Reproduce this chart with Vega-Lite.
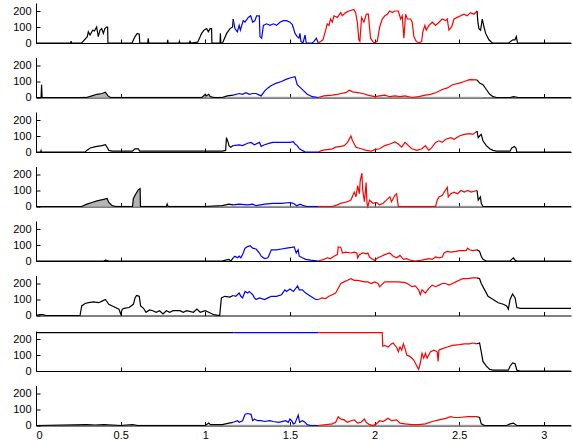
{
"$schema":"https://vega.github.io/schema/vega-lite/v6.json",
"padding":{"left":6,"top":3,"right":2,"bottom":0},
"spacing":9.5,
"config":{"view":{"stroke":null},"axis":{"grid":false,"domainColor":"#000","domainWidth":1,"tickColor":"#000","tickSize":-4,"tickWidth":1,"labelFont":"Liberation Sans","labelFontSize":11,"labelColor":"#000","title":null},"axisY":{"minExtent":30,"labelPadding":9},"axisX":{"labelPadding":8,"format":"~g"}},
"datasets":{
"g":[
{"p":2,"x":0.25,"y":0},{"p":2,"x":0.26,"y":5},{"p":2,"x":0.3,"y":6},{"p":2,"x":0.33,"y":10},{"p":2,"x":0.36,"y":18},{"p":2,"x":0.39,"y":22},{"p":2,"x":0.41,"y":30},{"p":2,"x":0.425,"y":8},{"p":2,"x":0.44,"y":5},{"p":2,"x":0.98,"y":5},{"p":2,"x":1.0,"y":15},{"p":2,"x":1.03,"y":5},{"p":2,"x":2.63,"y":5},{"p":2,"x":2.635,"y":0},
{"p":4,"x":0.25,"y":0},{"p":4,"x":0.27,"y":5},{"p":4,"x":0.3,"y":14},{"p":4,"x":0.33,"y":24},{"p":4,"x":0.36,"y":33},{"p":4,"x":0.38,"y":38},{"p":4,"x":0.4,"y":43},{"p":4,"x":0.42,"y":48},{"p":4,"x":0.43,"y":23},{"p":4,"x":0.45,"y":5},{"p":4,"x":0.57,"y":5},{"p":4,"x":0.575,"y":48},{"p":4,"x":0.59,"y":78},{"p":4,"x":0.605,"y":100},{"p":4,"x":0.615,"y":108},{"p":4,"x":0.617,"y":5},{"p":4,"x":2.63,"y":5},{"p":4,"x":2.635,"y":0},
{"p":8,"x":0.25,"y":0},{"p":8,"x":0.27,"y":5},{"p":8,"x":2.63,"y":5},{"p":8,"x":2.635,"y":0}
],
"d":[
{"p":1,"s":"k1","x":0,"y":0},{"p":1,"s":"k1","x":0.205,"y":0},{"p":1,"s":"k1","x":0.207,"y":12},{"p":1,"s":"k1","x":0.21,"y":0},{"p":1,"s":"k1","x":0.27,"y":0},{"p":1,"s":"k1","x":0.278,"y":10},{"p":1,"s":"k1","x":0.303,"y":40},{"p":1,"s":"k1","x":0.309,"y":70},{"p":1,"s":"k1","x":0.319,"y":50},{"p":1,"s":"k1","x":0.335,"y":80},{"p":1,"s":"k1","x":0.345,"y":75},{"p":1,"s":"k1","x":0.358,"y":100},{"p":1,"s":"k1","x":0.368,"y":40},{"p":1,"s":"k1","x":0.378,"y":80},{"p":1,"s":"k1","x":0.388,"y":90},{"p":1,"s":"k1","x":0.398,"y":60},{"p":1,"s":"k1","x":0.407,"y":90},{"p":1,"s":"k1","x":0.417,"y":100},{"p":1,"s":"k1","x":0.423,"y":100},{"p":1,"s":"k1","x":0.425,"y":0},{"p":1,"s":"k1","x":0.568,"y":0},{"p":1,"s":"k1","x":0.571,"y":10},{"p":1,"s":"k1","x":0.585,"y":40},{"p":1,"s":"k1","x":0.598,"y":60},{"p":1,"s":"k1","x":0.61,"y":55},{"p":1,"s":"k1","x":0.613,"y":0},{"p":1,"s":"k1","x":0.66,"y":0},{"p":1,"s":"k1","x":0.663,"y":30},{"p":1,"s":"k1","x":0.666,"y":0},{"p":1,"s":"k1","x":0.776,"y":0},{"p":1,"s":"k1","x":0.778,"y":20},{"p":1,"s":"k1","x":0.78,"y":0},{"p":1,"s":"k1","x":0.845,"y":0},{"p":1,"s":"k1","x":0.847,"y":10},{"p":1,"s":"k1","x":0.85,"y":0},{"p":1,"s":"k1","x":0.905,"y":0},{"p":1,"s":"k1","x":0.91,"y":10},{"p":1,"s":"k1","x":0.915,"y":0},{"p":1,"s":"k1","x":0.955,"y":5},{"p":1,"s":"k1","x":0.97,"y":40},{"p":1,"s":"k1","x":0.978,"y":60},{"p":1,"s":"k1","x":0.992,"y":80},{"p":1,"s":"k1","x":1.008,"y":90},{"p":1,"s":"k1","x":1.018,"y":70},{"p":1,"s":"k1","x":1.028,"y":90},{"p":1,"s":"k1","x":1.037,"y":90},{"p":1,"s":"k1","x":1.039,"y":0},{"p":1,"s":"k1","x":1.087,"y":0},{"p":1,"s":"k1","x":1.089,"y":60},{"p":1,"s":"k1","x":1.092,"y":0},{"p":1,"s":"k1","x":1.102,"y":0},{"p":1,"s":"k1","x":1.126,"y":60},{"p":1,"s":"k1","x":1.146,"y":90},{"p":1,"s":"k1","x":1.161,"y":100},{"p":1,"s":"k1","x":1.165,"y":150},
{"p":1,"s":"b","x":1.165,"y":150},{"p":1,"s":"b","x":1.175,"y":90},{"p":1,"s":"b","x":1.189,"y":70},{"p":1,"s":"b","x":1.2,"y":110},{"p":1,"s":"b","x":1.207,"y":80},{"p":1,"s":"b","x":1.224,"y":140},{"p":1,"s":"b","x":1.234,"y":130},{"p":1,"s":"b","x":1.254,"y":160},{"p":1,"s":"b","x":1.268,"y":170},{"p":1,"s":"b","x":1.28,"y":130},{"p":1,"s":"b","x":1.293,"y":140},{"p":1,"s":"b","x":1.303,"y":170},{"p":1,"s":"b","x":1.319,"y":170},{"p":1,"s":"b","x":1.323,"y":40},{"p":1,"s":"b","x":1.333,"y":30},{"p":1,"s":"b","x":1.343,"y":110},{"p":1,"s":"b","x":1.362,"y":120},{"p":1,"s":"b","x":1.382,"y":110},{"p":1,"s":"b","x":1.402,"y":120},{"p":1,"s":"b","x":1.421,"y":110},{"p":1,"s":"b","x":1.441,"y":130},{"p":1,"s":"b","x":1.461,"y":140},{"p":1,"s":"b","x":1.48,"y":140},{"p":1,"s":"b","x":1.5,"y":130},{"p":1,"s":"b","x":1.514,"y":115},{"p":1,"s":"b","x":1.53,"y":60},{"p":1,"s":"b","x":1.543,"y":40},{"p":1,"s":"b","x":1.553,"y":30},{"p":1,"s":"b","x":1.559,"y":60},{"p":1,"s":"b","x":1.565,"y":10},{"p":1,"s":"b","x":1.577,"y":0},{"p":1,"s":"b","x":1.589,"y":50},{"p":1,"s":"b","x":1.596,"y":0},{"p":1,"s":"b","x":1.632,"y":0},{"p":1,"s":"b","x":1.642,"y":10},{"p":1,"s":"b","x":1.656,"y":30},{"p":1,"s":"b","x":1.667,"y":0},
{"p":1,"s":"r","x":1.667,"y":0},{"p":1,"s":"r","x":1.681,"y":10},{"p":1,"s":"r","x":1.695,"y":20},{"p":1,"s":"r","x":1.711,"y":80},{"p":1,"s":"r","x":1.72,"y":120},{"p":1,"s":"r","x":1.73,"y":110},{"p":1,"s":"r","x":1.74,"y":150},{"p":1,"s":"r","x":1.75,"y":130},{"p":1,"s":"r","x":1.76,"y":170},{"p":1,"s":"r","x":1.78,"y":160},{"p":1,"s":"r","x":1.8,"y":190},{"p":1,"s":"r","x":1.809,"y":170},{"p":1,"s":"r","x":1.829,"y":190},{"p":1,"s":"r","x":1.848,"y":200},{"p":1,"s":"r","x":1.878,"y":210},{"p":1,"s":"r","x":1.888,"y":190},{"p":1,"s":"r","x":1.898,"y":130},{"p":1,"s":"r","x":1.907,"y":20},{"p":1,"s":"r","x":1.913,"y":10},{"p":1,"s":"r","x":1.923,"y":160},{"p":1,"s":"r","x":1.937,"y":130},{"p":1,"s":"r","x":1.951,"y":180},{"p":1,"s":"r","x":1.963,"y":180},{"p":1,"s":"r","x":1.976,"y":30},{"p":1,"s":"r","x":1.996,"y":0},{"p":1,"s":"r","x":2.016,"y":10},{"p":1,"s":"r","x":2.03,"y":100},{"p":1,"s":"r","x":2.045,"y":150},{"p":1,"s":"r","x":2.061,"y":170},{"p":1,"s":"r","x":2.075,"y":180},{"p":1,"s":"r","x":2.089,"y":200},{"p":1,"s":"r","x":2.104,"y":190},{"p":1,"s":"r","x":2.12,"y":200},{"p":1,"s":"r","x":2.14,"y":200},{"p":1,"s":"r","x":2.154,"y":150},{"p":1,"s":"r","x":2.163,"y":170},{"p":1,"s":"r","x":2.173,"y":30},{"p":1,"s":"r","x":2.183,"y":180},{"p":1,"s":"r","x":2.193,"y":150},{"p":1,"s":"r","x":2.213,"y":150},{"p":1,"s":"r","x":2.222,"y":130},{"p":1,"s":"r","x":2.232,"y":40},{"p":1,"s":"r","x":2.246,"y":10},{"p":1,"s":"r","x":2.262,"y":0},{"p":1,"s":"r","x":2.278,"y":10},{"p":1,"s":"r","x":2.285,"y":70},{"p":1,"s":"r","x":2.297,"y":110},{"p":1,"s":"r","x":2.305,"y":80},{"p":1,"s":"r","x":2.321,"y":110},{"p":1,"s":"r","x":2.341,"y":130},{"p":1,"s":"r","x":2.36,"y":110},{"p":1,"s":"r","x":2.38,"y":130},{"p":1,"s":"r","x":2.4,"y":150},{"p":1,"s":"r","x":2.419,"y":140},{"p":1,"s":"r","x":2.429,"y":150},{"p":1,"s":"r","x":2.439,"y":80},{"p":1,"s":"r","x":2.455,"y":100},{"p":1,"s":"r","x":2.469,"y":150},{"p":1,"s":"r","x":2.488,"y":160},{"p":1,"s":"r","x":2.508,"y":170},{"p":1,"s":"r","x":2.528,"y":180},{"p":1,"s":"r","x":2.547,"y":170},{"p":1,"s":"r","x":2.567,"y":190},{"p":1,"s":"r","x":2.587,"y":180},{"p":1,"s":"r","x":2.605,"y":200},
{"p":1,"s":"k2","x":2.605,"y":200},{"p":1,"s":"k2","x":2.61,"y":130},{"p":1,"s":"k2","x":2.616,"y":90},{"p":1,"s":"k2","x":2.626,"y":80},{"p":1,"s":"k2","x":2.636,"y":150},{"p":1,"s":"k2","x":2.646,"y":100},{"p":1,"s":"k2","x":2.656,"y":60},{"p":1,"s":"k2","x":2.675,"y":20},{"p":1,"s":"k2","x":2.695,"y":0},{"p":1,"s":"k2","x":2.793,"y":0},{"p":1,"s":"k2","x":2.803,"y":10},{"p":1,"s":"k2","x":2.817,"y":20},{"p":1,"s":"k2","x":2.829,"y":20},{"p":1,"s":"k2","x":2.837,"y":40},{"p":1,"s":"k2","x":2.844,"y":0},{"p":1,"s":"k2","x":3.16,"y":0},

{"p":2,"s":"k1","x":0,"y":0},{"p":2,"s":"k1","x":0.03,"y":0},{"p":2,"s":"k1","x":0.033,"y":80},{"p":2,"s":"k1","x":0.036,"y":0},{"p":2,"s":"k1","x":0.3,"y":0},{"p":2,"s":"k1","x":0.33,"y":10},{"p":2,"s":"k1","x":0.36,"y":20},{"p":2,"s":"k1","x":0.39,"y":25},{"p":2,"s":"k1","x":0.41,"y":33},{"p":2,"s":"k1","x":0.425,"y":10},{"p":2,"s":"k1","x":0.44,"y":0},{"p":2,"s":"k1","x":0.98,"y":0},{"p":2,"s":"k1","x":1.0,"y":20},{"p":2,"s":"k1","x":1.005,"y":10},{"p":2,"s":"k1","x":1.02,"y":20},{"p":2,"s":"k1","x":1.03,"y":5},{"p":2,"s":"k1","x":1.05,"y":0},{"p":2,"s":"k1","x":1.1,"y":0},{"p":2,"s":"k1","x":1.13,"y":10},{"p":2,"s":"k1","x":1.165,"y":15},
{"p":2,"s":"b","x":1.165,"y":15},{"p":2,"s":"b","x":1.2,"y":25},{"p":2,"s":"b","x":1.22,"y":20},{"p":2,"s":"b","x":1.24,"y":30},{"p":2,"s":"b","x":1.26,"y":20},{"p":2,"s":"b","x":1.28,"y":25},{"p":2,"s":"b","x":1.3,"y":25},{"p":2,"s":"b","x":1.32,"y":15},{"p":2,"s":"b","x":1.33,"y":10},{"p":2,"s":"b","x":1.35,"y":40},{"p":2,"s":"b","x":1.37,"y":60},{"p":2,"s":"b","x":1.39,"y":75},{"p":2,"s":"b","x":1.42,"y":90},{"p":2,"s":"b","x":1.45,"y":100},{"p":2,"s":"b","x":1.48,"y":115},{"p":2,"s":"b","x":1.51,"y":125},{"p":2,"s":"b","x":1.53,"y":130},{"p":2,"s":"b","x":1.543,"y":80},{"p":2,"s":"b","x":1.563,"y":60},{"p":2,"s":"b","x":1.583,"y":40},{"p":2,"s":"b","x":1.602,"y":20},{"p":2,"s":"b","x":1.632,"y":5},{"p":2,"s":"b","x":1.667,"y":0},
{"p":2,"s":"r","x":1.667,"y":0},{"p":2,"s":"r","x":1.7,"y":10},{"p":2,"s":"r","x":1.75,"y":15},{"p":2,"s":"r","x":1.78,"y":20},{"p":2,"s":"r","x":1.8,"y":25},{"p":2,"s":"r","x":1.83,"y":30},{"p":2,"s":"r","x":1.85,"y":45},{"p":2,"s":"r","x":1.87,"y":35},{"p":2,"s":"r","x":1.9,"y":30},{"p":2,"s":"r","x":1.93,"y":25},{"p":2,"s":"r","x":1.96,"y":15},{"p":2,"s":"r","x":2.0,"y":5},{"p":2,"s":"r","x":2.03,"y":10},{"p":2,"s":"r","x":2.06,"y":15},{"p":2,"s":"r","x":2.09,"y":5},{"p":2,"s":"r","x":2.12,"y":10},{"p":2,"s":"r","x":2.15,"y":5},{"p":2,"s":"r","x":2.18,"y":10},{"p":2,"s":"r","x":2.22,"y":0},{"p":2,"s":"r","x":2.26,"y":5},{"p":2,"s":"r","x":2.3,"y":15},{"p":2,"s":"r","x":2.33,"y":20},{"p":2,"s":"r","x":2.36,"y":30},{"p":2,"s":"r","x":2.4,"y":50},{"p":2,"s":"r","x":2.43,"y":60},{"p":2,"s":"r","x":2.46,"y":80},{"p":2,"s":"r","x":2.5,"y":90},{"p":2,"s":"r","x":2.53,"y":100},{"p":2,"s":"r","x":2.56,"y":112},{"p":2,"s":"r","x":2.605,"y":110},
{"p":2,"s":"k2","x":2.605,"y":110},{"p":2,"s":"k2","x":2.62,"y":90},{"p":2,"s":"k2","x":2.64,"y":80},{"p":2,"s":"k2","x":2.66,"y":50},{"p":2,"s":"k2","x":2.68,"y":20},{"p":2,"s":"k2","x":2.7,"y":5},{"p":2,"s":"k2","x":2.72,"y":0},{"p":2,"s":"k2","x":2.8,"y":0},{"p":2,"s":"k2","x":2.82,"y":5},{"p":2,"s":"k2","x":2.85,"y":0},{"p":2,"s":"k2","x":3.16,"y":0},

{"p":3,"s":"k1","x":0,"y":0},{"p":3,"s":"k1","x":0.028,"y":0},{"p":3,"s":"k1","x":0.03,"y":8},{"p":3,"s":"k1","x":0.032,"y":0},{"p":3,"s":"k1","x":0.29,"y":0},{"p":3,"s":"k1","x":0.3,"y":10},{"p":3,"s":"k1","x":0.32,"y":25},{"p":3,"s":"k1","x":0.34,"y":30},{"p":3,"s":"k1","x":0.36,"y":35},{"p":3,"s":"k1","x":0.39,"y":40},{"p":3,"s":"k1","x":0.41,"y":46},{"p":3,"s":"k1","x":0.42,"y":30},{"p":3,"s":"k1","x":0.43,"y":10},{"p":3,"s":"k1","x":0.45,"y":5},{"p":3,"s":"k1","x":0.57,"y":5},{"p":3,"s":"k1","x":0.585,"y":20},{"p":3,"s":"k1","x":0.605,"y":20},{"p":3,"s":"k1","x":0.612,"y":5},{"p":3,"s":"k1","x":1.1,"y":5},{"p":3,"s":"k1","x":1.12,"y":10},{"p":3,"s":"k1","x":1.125,"y":90},{"p":3,"s":"k1","x":1.135,"y":60},{"p":3,"s":"k1","x":1.14,"y":40},{"p":3,"s":"k1","x":1.15,"y":30},{"p":3,"s":"k1","x":1.165,"y":40},
{"p":3,"s":"b","x":1.165,"y":40},{"p":3,"s":"b","x":1.2,"y":45},{"p":3,"s":"b","x":1.22,"y":40},{"p":3,"s":"b","x":1.25,"y":55},{"p":3,"s":"b","x":1.27,"y":60},{"p":3,"s":"b","x":1.29,"y":45},{"p":3,"s":"b","x":1.3,"y":50},{"p":3,"s":"b","x":1.32,"y":60},{"p":3,"s":"b","x":1.33,"y":35},{"p":3,"s":"b","x":1.35,"y":45},{"p":3,"s":"b","x":1.38,"y":55},{"p":3,"s":"b","x":1.4,"y":60},{"p":3,"s":"b","x":1.45,"y":60},{"p":3,"s":"b","x":1.5,"y":60},{"p":3,"s":"b","x":1.52,"y":65},{"p":3,"s":"b","x":1.53,"y":50},{"p":3,"s":"b","x":1.543,"y":40},{"p":3,"s":"b","x":1.556,"y":20},{"p":3,"s":"b","x":1.572,"y":10},{"p":3,"s":"b","x":1.59,"y":0},{"p":3,"s":"b","x":1.667,"y":0},
{"p":3,"s":"r","x":1.667,"y":0},{"p":3,"s":"r","x":1.69,"y":10},{"p":3,"s":"r","x":1.72,"y":15},{"p":3,"s":"r","x":1.75,"y":20},{"p":3,"s":"r","x":1.77,"y":30},{"p":3,"s":"r","x":1.8,"y":35},{"p":3,"s":"r","x":1.82,"y":40},{"p":3,"s":"r","x":1.84,"y":60},{"p":3,"s":"r","x":1.86,"y":100},{"p":3,"s":"r","x":1.87,"y":70},{"p":3,"s":"r","x":1.89,"y":30},{"p":3,"s":"r","x":1.92,"y":20},{"p":3,"s":"r","x":1.95,"y":10},{"p":3,"s":"r","x":1.98,"y":5},{"p":3,"s":"r","x":2.0,"y":15},{"p":3,"s":"r","x":2.03,"y":20},{"p":3,"s":"r","x":2.06,"y":40},{"p":3,"s":"r","x":2.09,"y":50},{"p":3,"s":"r","x":2.12,"y":63},{"p":3,"s":"r","x":2.14,"y":50},{"p":3,"s":"r","x":2.16,"y":30},{"p":3,"s":"r","x":2.18,"y":60},{"p":3,"s":"r","x":2.2,"y":40},{"p":3,"s":"r","x":2.22,"y":20},{"p":3,"s":"r","x":2.25,"y":10},{"p":3,"s":"r","x":2.28,"y":20},{"p":3,"s":"r","x":2.3,"y":40},{"p":3,"s":"r","x":2.32,"y":10},{"p":3,"s":"r","x":2.34,"y":30},{"p":3,"s":"r","x":2.36,"y":60},{"p":3,"s":"r","x":2.38,"y":70},{"p":3,"s":"r","x":2.4,"y":60},{"p":3,"s":"r","x":2.42,"y":80},{"p":3,"s":"r","x":2.45,"y":90},{"p":3,"s":"r","x":2.47,"y":80},{"p":3,"s":"r","x":2.5,"y":100},{"p":3,"s":"r","x":2.53,"y":110},{"p":3,"s":"r","x":2.56,"y":115},{"p":3,"s":"r","x":2.58,"y":110},{"p":3,"s":"r","x":2.605,"y":130},
{"p":3,"s":"k2","x":2.605,"y":130},{"p":3,"s":"k2","x":2.612,"y":90},{"p":3,"s":"k2","x":2.62,"y":100},{"p":3,"s":"k2","x":2.63,"y":110},{"p":3,"s":"k2","x":2.64,"y":70},{"p":3,"s":"k2","x":2.66,"y":40},{"p":3,"s":"k2","x":2.68,"y":20},{"p":3,"s":"k2","x":2.7,"y":10},{"p":3,"s":"k2","x":2.72,"y":5},{"p":3,"s":"k2","x":2.8,"y":5},{"p":3,"s":"k2","x":2.81,"y":25},{"p":3,"s":"k2","x":2.825,"y":35},{"p":3,"s":"k2","x":2.835,"y":25},{"p":3,"s":"k2","x":2.84,"y":0},{"p":3,"s":"k2","x":3.16,"y":0},

{"p":4,"s":"k1","x":0,"y":0},{"p":4,"s":"k1","x":0.27,"y":0},{"p":4,"s":"k1","x":0.3,"y":15},{"p":4,"s":"k1","x":0.33,"y":25},{"p":4,"s":"k1","x":0.36,"y":35},{"p":4,"s":"k1","x":0.38,"y":40},{"p":4,"s":"k1","x":0.4,"y":45},{"p":4,"s":"k1","x":0.42,"y":50},{"p":4,"s":"k1","x":0.43,"y":25},{"p":4,"s":"k1","x":0.45,"y":5},{"p":4,"s":"k1","x":0.47,"y":0},{"p":4,"s":"k1","x":0.57,"y":0},{"p":4,"s":"k1","x":0.575,"y":50},{"p":4,"s":"k1","x":0.59,"y":80},{"p":4,"s":"k1","x":0.605,"y":105},{"p":4,"s":"k1","x":0.615,"y":112},{"p":4,"s":"k1","x":0.617,"y":0},{"p":4,"s":"k1","x":0.77,"y":0},{"p":4,"s":"k1","x":0.775,"y":15},{"p":4,"s":"k1","x":0.78,"y":0},{"p":4,"s":"k1","x":1.0,"y":0},{"p":4,"s":"k1","x":1.1,"y":5},{"p":4,"s":"k1","x":1.14,"y":15},{"p":4,"s":"k1","x":1.165,"y":10},
{"p":4,"s":"b","x":1.165,"y":10},{"p":4,"s":"b","x":1.2,"y":15},{"p":4,"s":"b","x":1.25,"y":10},{"p":4,"s":"b","x":1.28,"y":15},{"p":4,"s":"b","x":1.3,"y":5},{"p":4,"s":"b","x":1.35,"y":15},{"p":4,"s":"b","x":1.4,"y":20},{"p":4,"s":"b","x":1.45,"y":20},{"p":4,"s":"b","x":1.5,"y":25},{"p":4,"s":"b","x":1.52,"y":20},{"p":4,"s":"b","x":1.54,"y":5},{"p":4,"s":"b","x":1.56,"y":15},{"p":4,"s":"b","x":1.58,"y":5},{"p":4,"s":"b","x":1.6,"y":0},{"p":4,"s":"b","x":1.667,"y":0},
{"p":4,"s":"r","x":1.667,"y":0},{"p":4,"s":"r","x":1.75,"y":0},{"p":4,"s":"r","x":1.78,"y":10},{"p":4,"s":"r","x":1.8,"y":20},{"p":4,"s":"r","x":1.82,"y":25},{"p":4,"s":"r","x":1.84,"y":30},{"p":4,"s":"r","x":1.86,"y":40},{"p":4,"s":"r","x":1.88,"y":90},{"p":4,"s":"r","x":1.89,"y":60},{"p":4,"s":"r","x":1.9,"y":130},{"p":4,"s":"r","x":1.91,"y":80},{"p":4,"s":"r","x":1.915,"y":160},{"p":4,"s":"r","x":1.925,"y":208},{"p":4,"s":"r","x":1.93,"y":100},{"p":4,"s":"r","x":1.94,"y":30},{"p":4,"s":"r","x":1.95,"y":150},{"p":4,"s":"r","x":1.955,"y":20},{"p":4,"s":"r","x":1.96,"y":0},{"p":4,"s":"r","x":1.97,"y":40},{"p":4,"s":"r","x":1.99,"y":20},{"p":4,"s":"r","x":2.01,"y":25},{"p":4,"s":"r","x":2.03,"y":10},{"p":4,"s":"r","x":2.05,"y":20},{"p":4,"s":"r","x":2.07,"y":40},{"p":4,"s":"r","x":2.09,"y":60},{"p":4,"s":"r","x":2.1,"y":30},{"p":4,"s":"r","x":2.12,"y":70},{"p":4,"s":"r","x":2.13,"y":80},{"p":4,"s":"r","x":2.14,"y":0},{"p":4,"s":"r","x":2.36,"y":0},{"p":4,"s":"r","x":2.37,"y":40},{"p":4,"s":"r","x":2.38,"y":60},{"p":4,"s":"r","x":2.4,"y":70},{"p":4,"s":"r","x":2.429,"y":120},{"p":4,"s":"r","x":2.435,"y":60},{"p":4,"s":"r","x":2.45,"y":80},{"p":4,"s":"r","x":2.47,"y":90},{"p":4,"s":"r","x":2.49,"y":80},{"p":4,"s":"r","x":2.51,"y":100},{"p":4,"s":"r","x":2.53,"y":90},{"p":4,"s":"r","x":2.55,"y":100},{"p":4,"s":"r","x":2.57,"y":90},{"p":4,"s":"r","x":2.605,"y":100},
{"p":4,"s":"k2","x":2.605,"y":100},{"p":4,"s":"k2","x":2.612,"y":40},{"p":4,"s":"k2","x":2.625,"y":60},{"p":4,"s":"k2","x":2.63,"y":20},{"p":4,"s":"k2","x":2.64,"y":0},{"p":4,"s":"k2","x":3.16,"y":0},

{"p":5,"s":"k1","x":0,"y":0},{"p":5,"s":"k1","x":0.4,"y":0},{"p":5,"s":"k1","x":0.41,"y":5},{"p":5,"s":"k1","x":0.43,"y":0},{"p":5,"s":"k1","x":1.1,"y":0},{"p":5,"s":"k1","x":1.12,"y":5},{"p":5,"s":"k1","x":1.14,"y":10},{"p":5,"s":"k1","x":1.15,"y":0},{"p":5,"s":"k1","x":1.165,"y":20},
{"p":5,"s":"b","x":1.165,"y":20},{"p":5,"s":"b","x":1.175,"y":30},{"p":5,"s":"b","x":1.19,"y":20},{"p":5,"s":"b","x":1.2,"y":30},{"p":5,"s":"b","x":1.21,"y":20},{"p":5,"s":"b","x":1.22,"y":40},{"p":5,"s":"b","x":1.235,"y":80},{"p":5,"s":"b","x":1.25,"y":90},{"p":5,"s":"b","x":1.265,"y":95},{"p":5,"s":"b","x":1.28,"y":80},{"p":5,"s":"b","x":1.3,"y":75},{"p":5,"s":"b","x":1.32,"y":50},{"p":5,"s":"b","x":1.33,"y":30},{"p":5,"s":"b","x":1.35,"y":15},{"p":5,"s":"b","x":1.37,"y":20},{"p":5,"s":"b","x":1.39,"y":70},{"p":5,"s":"b","x":1.42,"y":70},{"p":5,"s":"b","x":1.45,"y":75},{"p":5,"s":"b","x":1.48,"y":80},{"p":5,"s":"b","x":1.51,"y":85},{"p":5,"s":"b","x":1.525,"y":88},{"p":5,"s":"b","x":1.537,"y":50},{"p":5,"s":"b","x":1.548,"y":70},{"p":5,"s":"b","x":1.555,"y":30},{"p":5,"s":"b","x":1.573,"y":20},{"p":5,"s":"b","x":1.593,"y":10},{"p":5,"s":"b","x":1.622,"y":5},{"p":5,"s":"b","x":1.667,"y":0},
{"p":5,"s":"r","x":1.667,"y":0},{"p":5,"s":"r","x":1.7,"y":10},{"p":5,"s":"r","x":1.72,"y":20},{"p":5,"s":"r","x":1.74,"y":15},{"p":5,"s":"r","x":1.76,"y":30},{"p":5,"s":"r","x":1.78,"y":40},{"p":5,"s":"r","x":1.785,"y":88},{"p":5,"s":"r","x":1.8,"y":85},{"p":5,"s":"r","x":1.81,"y":50},{"p":5,"s":"r","x":1.83,"y":55},{"p":5,"s":"r","x":1.86,"y":50},{"p":5,"s":"r","x":1.88,"y":55},{"p":5,"s":"r","x":1.895,"y":50},{"p":5,"s":"r","x":1.9,"y":20},{"p":5,"s":"r","x":1.91,"y":40},{"p":5,"s":"r","x":1.93,"y":50},{"p":5,"s":"r","x":1.95,"y":45},{"p":5,"s":"r","x":1.96,"y":50},{"p":5,"s":"r","x":1.97,"y":25},{"p":5,"s":"r","x":1.99,"y":10},{"p":5,"s":"r","x":2.0,"y":5},{"p":5,"s":"r","x":2.02,"y":20},{"p":5,"s":"r","x":2.04,"y":30},{"p":5,"s":"r","x":2.06,"y":40},{"p":5,"s":"r","x":2.09,"y":50},{"p":5,"s":"r","x":2.11,"y":30},{"p":5,"s":"r","x":2.13,"y":20},{"p":5,"s":"r","x":2.15,"y":35},{"p":5,"s":"r","x":2.17,"y":10},{"p":5,"s":"r","x":2.19,"y":15},{"p":5,"s":"r","x":2.21,"y":5},{"p":5,"s":"r","x":2.24,"y":0},{"p":5,"s":"r","x":2.28,"y":5},{"p":5,"s":"r","x":2.3,"y":10},{"p":5,"s":"r","x":2.32,"y":15},{"p":5,"s":"r","x":2.34,"y":10},{"p":5,"s":"r","x":2.36,"y":25},{"p":5,"s":"r","x":2.38,"y":20},{"p":5,"s":"r","x":2.4,"y":25},{"p":5,"s":"r","x":2.41,"y":50},{"p":5,"s":"r","x":2.43,"y":60},{"p":5,"s":"r","x":2.45,"y":55},{"p":5,"s":"r","x":2.48,"y":60},{"p":5,"s":"r","x":2.5,"y":65},{"p":5,"s":"r","x":2.54,"y":65},{"p":5,"s":"r","x":2.55,"y":80},{"p":5,"s":"r","x":2.56,"y":70},{"p":5,"s":"r","x":2.58,"y":65},{"p":5,"s":"r","x":2.605,"y":70},
{"p":5,"s":"k2","x":2.605,"y":70},{"p":5,"s":"k2","x":2.62,"y":60},{"p":5,"s":"k2","x":2.63,"y":30},{"p":5,"s":"k2","x":2.64,"y":10},{"p":5,"s":"k2","x":2.66,"y":0},{"p":5,"s":"k2","x":2.8,"y":0},{"p":5,"s":"k2","x":2.81,"y":10},{"p":5,"s":"k2","x":2.82,"y":20},{"p":5,"s":"k2","x":2.83,"y":5},{"p":5,"s":"k2","x":2.84,"y":0},{"p":5,"s":"k2","x":3.16,"y":0},

{"p":6,"s":"k1","x":0,"y":0},{"p":6,"s":"k1","x":0.02,"y":5},{"p":6,"s":"k1","x":0.04,"y":5},{"p":6,"s":"k1","x":0.06,"y":0},{"p":6,"s":"k1","x":0.26,"y":0},{"p":6,"s":"k1","x":0.27,"y":60},{"p":6,"s":"k1","x":0.29,"y":75},{"p":6,"s":"k1","x":0.31,"y":80},{"p":6,"s":"k1","x":0.34,"y":85},{"p":6,"s":"k1","x":0.37,"y":80},{"p":6,"s":"k1","x":0.39,"y":90},{"p":6,"s":"k1","x":0.41,"y":100},{"p":6,"s":"k1","x":0.43,"y":70},{"p":6,"s":"k1","x":0.46,"y":55},{"p":6,"s":"k1","x":0.49,"y":40},{"p":6,"s":"k1","x":0.5,"y":10},{"p":6,"s":"k1","x":0.51,"y":40},{"p":6,"s":"k1","x":0.52,"y":45},{"p":6,"s":"k1","x":0.55,"y":50},{"p":6,"s":"k1","x":0.575,"y":70},{"p":6,"s":"k1","x":0.585,"y":110},{"p":6,"s":"k1","x":0.594,"y":125},{"p":6,"s":"k1","x":0.61,"y":120},{"p":6,"s":"k1","x":0.618,"y":60},{"p":6,"s":"k1","x":0.635,"y":45},{"p":6,"s":"k1","x":0.65,"y":20},{"p":6,"s":"k1","x":0.67,"y":35},{"p":6,"s":"k1","x":0.69,"y":30},{"p":6,"s":"k1","x":0.71,"y":20},{"p":6,"s":"k1","x":0.73,"y":30},{"p":6,"s":"k1","x":0.75,"y":10},{"p":6,"s":"k1","x":0.77,"y":30},{"p":6,"s":"k1","x":0.79,"y":20},{"p":6,"s":"k1","x":0.81,"y":30},{"p":6,"s":"k1","x":0.85,"y":30},{"p":6,"s":"k1","x":0.87,"y":20},{"p":6,"s":"k1","x":0.89,"y":30},{"p":6,"s":"k1","x":0.93,"y":20},{"p":6,"s":"k1","x":0.95,"y":40},{"p":6,"s":"k1","x":0.97,"y":20},{"p":6,"s":"k1","x":1.0,"y":30},{"p":6,"s":"k1","x":1.02,"y":20},{"p":6,"s":"k1","x":1.05,"y":5},{"p":6,"s":"k1","x":1.085,"y":0},{"p":6,"s":"k1","x":1.095,"y":110},{"p":6,"s":"k1","x":1.115,"y":120},{"p":6,"s":"k1","x":1.145,"y":115},{"p":6,"s":"k1","x":1.165,"y":125},
{"p":6,"s":"b","x":1.165,"y":125},{"p":6,"s":"b","x":1.18,"y":120},{"p":6,"s":"b","x":1.2,"y":140},{"p":6,"s":"b","x":1.21,"y":120},{"p":6,"s":"b","x":1.22,"y":110},{"p":6,"s":"b","x":1.235,"y":150},{"p":6,"s":"b","x":1.25,"y":140},{"p":6,"s":"b","x":1.26,"y":150},{"p":6,"s":"b","x":1.27,"y":140},{"p":6,"s":"b","x":1.28,"y":130},{"p":6,"s":"b","x":1.29,"y":110},{"p":6,"s":"b","x":1.3,"y":100},{"p":6,"s":"b","x":1.32,"y":110},{"p":6,"s":"b","x":1.35,"y":100},{"p":6,"s":"b","x":1.37,"y":110},{"p":6,"s":"b","x":1.39,"y":120},{"p":6,"s":"b","x":1.42,"y":120},{"p":6,"s":"b","x":1.45,"y":130},{"p":6,"s":"b","x":1.47,"y":160},{"p":6,"s":"b","x":1.48,"y":150},{"p":6,"s":"b","x":1.5,"y":165},{"p":6,"s":"b","x":1.52,"y":150},{"p":6,"s":"b","x":1.545,"y":185},{"p":6,"s":"b","x":1.555,"y":160},{"p":6,"s":"b","x":1.573,"y":160},{"p":6,"s":"b","x":1.593,"y":140},{"p":6,"s":"b","x":1.622,"y":120},{"p":6,"s":"b","x":1.652,"y":100},{"p":6,"s":"b","x":1.667,"y":100},
{"p":6,"s":"r","x":1.667,"y":100},{"p":6,"s":"r","x":1.69,"y":110},{"p":6,"s":"r","x":1.71,"y":105},{"p":6,"s":"r","x":1.73,"y":120},{"p":6,"s":"r","x":1.75,"y":130},{"p":6,"s":"r","x":1.77,"y":140},{"p":6,"s":"r","x":1.79,"y":180},{"p":6,"s":"r","x":1.8,"y":200},{"p":6,"s":"r","x":1.82,"y":210},{"p":6,"s":"r","x":1.84,"y":220},{"p":6,"s":"r","x":1.86,"y":230},{"p":6,"s":"r","x":1.88,"y":220},{"p":6,"s":"r","x":1.9,"y":220},{"p":6,"s":"r","x":1.92,"y":215},{"p":6,"s":"r","x":1.94,"y":210},{"p":6,"s":"r","x":1.96,"y":210},{"p":6,"s":"r","x":1.98,"y":200},{"p":6,"s":"r","x":2.0,"y":210},{"p":6,"s":"r","x":2.02,"y":200},{"p":6,"s":"r","x":2.03,"y":180},{"p":6,"s":"r","x":2.04,"y":190},{"p":6,"s":"r","x":2.06,"y":210},{"p":6,"s":"r","x":2.1,"y":210},{"p":6,"s":"r","x":2.14,"y":210},{"p":6,"s":"r","x":2.18,"y":205},{"p":6,"s":"r","x":2.2,"y":195},{"p":6,"s":"r","x":2.22,"y":180},{"p":6,"s":"r","x":2.24,"y":185},{"p":6,"s":"r","x":2.26,"y":160},{"p":6,"s":"r","x":2.27,"y":130},{"p":6,"s":"r","x":2.28,"y":160},{"p":6,"s":"r","x":2.3,"y":140},{"p":6,"s":"r","x":2.32,"y":170},{"p":6,"s":"r","x":2.34,"y":190},{"p":6,"s":"r","x":2.36,"y":180},{"p":6,"s":"r","x":2.38,"y":190},{"p":6,"s":"r","x":2.4,"y":200},{"p":6,"s":"r","x":2.42,"y":200},{"p":6,"s":"r","x":2.44,"y":190},{"p":6,"s":"r","x":2.46,"y":200},{"p":6,"s":"r","x":2.48,"y":210},{"p":6,"s":"r","x":2.5,"y":220},{"p":6,"s":"r","x":2.52,"y":230},{"p":6,"s":"r","x":2.55,"y":230},{"p":6,"s":"r","x":2.58,"y":235},{"p":6,"s":"r","x":2.605,"y":235},
{"p":6,"s":"k2","x":2.605,"y":235},{"p":6,"s":"k2","x":2.62,"y":230},{"p":6,"s":"k2","x":2.63,"y":200},{"p":6,"s":"k2","x":2.65,"y":160},{"p":6,"s":"k2","x":2.67,"y":120},{"p":6,"s":"k2","x":2.7,"y":100},{"p":6,"s":"k2","x":2.73,"y":80},{"p":6,"s":"k2","x":2.76,"y":70},{"p":6,"s":"k2","x":2.78,"y":60},{"p":6,"s":"k2","x":2.79,"y":40},{"p":6,"s":"k2","x":2.8,"y":100},{"p":6,"s":"k2","x":2.815,"y":135},{"p":6,"s":"k2","x":2.83,"y":110},{"p":6,"s":"k2","x":2.84,"y":50},{"p":6,"s":"k2","x":2.86,"y":45},{"p":6,"s":"k2","x":3.16,"y":45},

{"p":7,"s":"k1","x":0,"y":240},{"p":7,"s":"k1","x":1.165,"y":240},
{"p":7,"s":"b","x":1.165,"y":240},{"p":7,"s":"b","x":1.667,"y":240},
{"p":7,"s":"r","x":1.667,"y":240},{"p":7,"s":"r","x":2.045,"y":240},{"p":7,"s":"r","x":2.048,"y":155},{"p":7,"s":"r","x":2.06,"y":160},{"p":7,"s":"r","x":2.08,"y":150},{"p":7,"s":"r","x":2.09,"y":160},{"p":7,"s":"r","x":2.1,"y":170},{"p":7,"s":"r","x":2.11,"y":175},{"p":7,"s":"r","x":2.12,"y":160},{"p":7,"s":"r","x":2.13,"y":150},{"p":7,"s":"r","x":2.14,"y":120},{"p":7,"s":"r","x":2.15,"y":150},{"p":7,"s":"r","x":2.16,"y":130},{"p":7,"s":"r","x":2.17,"y":170},{"p":7,"s":"r","x":2.18,"y":140},{"p":7,"s":"r","x":2.19,"y":100},{"p":7,"s":"r","x":2.21,"y":90},{"p":7,"s":"r","x":2.23,"y":70},{"p":7,"s":"r","x":2.25,"y":30},{"p":7,"s":"r","x":2.26,"y":10},{"p":7,"s":"r","x":2.27,"y":50},{"p":7,"s":"r","x":2.28,"y":110},{"p":7,"s":"r","x":2.29,"y":80},{"p":7,"s":"r","x":2.3,"y":110},{"p":7,"s":"r","x":2.31,"y":80},{"p":7,"s":"r","x":2.33,"y":120},{"p":7,"s":"r","x":2.35,"y":130},{"p":7,"s":"r","x":2.37,"y":120},{"p":7,"s":"r","x":2.375,"y":60},{"p":7,"s":"r","x":2.38,"y":130},{"p":7,"s":"r","x":2.4,"y":140},{"p":7,"s":"r","x":2.43,"y":150},{"p":7,"s":"r","x":2.46,"y":160},{"p":7,"s":"r","x":2.5,"y":165},{"p":7,"s":"r","x":2.53,"y":170},{"p":7,"s":"r","x":2.56,"y":170},{"p":7,"s":"r","x":2.58,"y":175},{"p":7,"s":"r","x":2.605,"y":170},
{"p":7,"s":"k2","x":2.605,"y":170},{"p":7,"s":"k2","x":2.62,"y":175},{"p":7,"s":"k2","x":2.63,"y":120},{"p":7,"s":"k2","x":2.64,"y":60},{"p":7,"s":"k2","x":2.66,"y":30},{"p":7,"s":"k2","x":2.68,"y":10},{"p":7,"s":"k2","x":2.7,"y":5},{"p":7,"s":"k2","x":2.79,"y":5},{"p":7,"s":"k2","x":2.8,"y":30},{"p":7,"s":"k2","x":2.815,"y":50},{"p":7,"s":"k2","x":2.83,"y":45},{"p":7,"s":"k2","x":2.84,"y":5},{"p":7,"s":"k2","x":2.86,"y":0},{"p":7,"s":"k2","x":3.16,"y":0},

{"p":8,"s":"k1","x":0,"y":0},{"p":8,"s":"k1","x":0.3,"y":5},{"p":8,"s":"k1","x":0.35,"y":3},{"p":8,"s":"k1","x":0.4,"y":5},{"p":8,"s":"k1","x":0.5,"y":0},{"p":8,"s":"k1","x":0.57,"y":5},{"p":8,"s":"k1","x":0.6,"y":0},{"p":8,"s":"k1","x":1.0,"y":0},{"p":8,"s":"k1","x":1.02,"y":15},{"p":8,"s":"k1","x":1.03,"y":5},{"p":8,"s":"k1","x":1.1,"y":5},{"p":8,"s":"k1","x":1.14,"y":15},{"p":8,"s":"k1","x":1.165,"y":20},
{"p":8,"s":"b","x":1.165,"y":20},{"p":8,"s":"b","x":1.19,"y":30},{"p":8,"s":"b","x":1.2,"y":20},{"p":8,"s":"b","x":1.22,"y":30},{"p":8,"s":"b","x":1.235,"y":70},{"p":8,"s":"b","x":1.25,"y":75},{"p":8,"s":"b","x":1.27,"y":70},{"p":8,"s":"b","x":1.28,"y":30},{"p":8,"s":"b","x":1.29,"y":40},{"p":8,"s":"b","x":1.31,"y":30},{"p":8,"s":"b","x":1.33,"y":30},{"p":8,"s":"b","x":1.35,"y":25},{"p":8,"s":"b","x":1.38,"y":30},{"p":8,"s":"b","x":1.4,"y":25},{"p":8,"s":"b","x":1.435,"y":20},{"p":8,"s":"b","x":1.474,"y":30},{"p":8,"s":"b","x":1.49,"y":20},{"p":8,"s":"b","x":1.5,"y":40},{"p":8,"s":"b","x":1.51,"y":30},{"p":8,"s":"b","x":1.52,"y":10},{"p":8,"s":"b","x":1.53,"y":15},{"p":8,"s":"b","x":1.549,"y":65},{"p":8,"s":"b","x":1.557,"y":20},{"p":8,"s":"b","x":1.573,"y":30},{"p":8,"s":"b","x":1.589,"y":20},{"p":8,"s":"b","x":1.602,"y":5},{"p":8,"s":"b","x":1.622,"y":0},{"p":8,"s":"b","x":1.667,"y":0},
{"p":8,"s":"r","x":1.667,"y":0},{"p":8,"s":"r","x":1.75,"y":10},{"p":8,"s":"r","x":1.77,"y":20},{"p":8,"s":"r","x":1.785,"y":55},{"p":8,"s":"r","x":1.8,"y":40},{"p":8,"s":"r","x":1.82,"y":35},{"p":8,"s":"r","x":1.84,"y":20},{"p":8,"s":"r","x":1.86,"y":30},{"p":8,"s":"r","x":1.88,"y":35},{"p":8,"s":"r","x":1.9,"y":15},{"p":8,"s":"r","x":1.92,"y":20},{"p":8,"s":"r","x":1.94,"y":40},{"p":8,"s":"r","x":1.95,"y":20},{"p":8,"s":"r","x":1.97,"y":5},{"p":8,"s":"r","x":1.99,"y":0},{"p":8,"s":"r","x":2.01,"y":10},{"p":8,"s":"r","x":2.03,"y":30},{"p":8,"s":"r","x":2.05,"y":25},{"p":8,"s":"r","x":2.08,"y":45},{"p":8,"s":"r","x":2.1,"y":30},{"p":8,"s":"r","x":2.13,"y":35},{"p":8,"s":"r","x":2.15,"y":15},{"p":8,"s":"r","x":2.18,"y":10},{"p":8,"s":"r","x":2.22,"y":5},{"p":8,"s":"r","x":2.26,"y":5},{"p":8,"s":"r","x":2.3,"y":10},{"p":8,"s":"r","x":2.34,"y":25},{"p":8,"s":"r","x":2.38,"y":35},{"p":8,"s":"r","x":2.42,"y":45},{"p":8,"s":"r","x":2.45,"y":55},{"p":8,"s":"r","x":2.47,"y":50},{"p":8,"s":"r","x":2.5,"y":50},{"p":8,"s":"r","x":2.55,"y":55},{"p":8,"s":"r","x":2.605,"y":55},
{"p":8,"s":"k2","x":2.605,"y":55},{"p":8,"s":"k2","x":2.62,"y":50},{"p":8,"s":"k2","x":2.63,"y":10},{"p":8,"s":"k2","x":2.65,"y":0},{"p":8,"s":"k2","x":2.78,"y":0},{"p":8,"s":"k2","x":2.8,"y":10},{"p":8,"s":"k2","x":2.82,"y":15},{"p":8,"s":"k2","x":2.84,"y":0},{"p":8,"s":"k2","x":3.16,"y":0}
]},
"vconcat":[
{"width":535,"height":40,"data":{"name":"d"},"transform":[{"filter":"datum.p==1"}],"mark":{"type":"line","strokeWidth":1.2},"encoding":{"x":{"field":"x","type":"quantitative","scale":{"domain":[0,3.16],"nice":false,"zero":false},"axis":{"labels":false,"values":[0,0.5,1,1.5,2,2.5,3]}},"y":{"field":"y","type":"quantitative","scale":{"domain":[0,250],"nice":false},"axis":{"values":[0,100,200]}},"color":{"field":"s","type":"nominal","scale":{"domain":["k1","b","r","k2"],"range":["#000000","#0000ff","#ff0000","#000000"]},"legend":null}}},
{"width":535,"height":40,"encoding":{"x":{"field":"x","type":"quantitative","scale":{"domain":[0,3.16],"nice":false,"zero":false},"axis":{"labels":false,"values":[0,0.5,1,1.5,2,2.5,3]}},"y":{"field":"y","type":"quantitative","scale":{"domain":[0,250],"nice":false},"axis":{"values":[0,100,200]}}},"layer":[
{"data":{"name":"g"},"transform":[{"filter":"datum.p==2"}],"mark":{"type":"area","color":"#b4b4b4"}},
{"data":{"name":"d"},"transform":[{"filter":"datum.p==2"}],"mark":{"type":"line","strokeWidth":1.2},"encoding":{"color":{"field":"s","type":"nominal","scale":{"domain":["k1","b","r","k2"],"range":["#000000","#0000ff","#ff0000","#000000"]},"legend":null}}}]},
{"width":535,"height":40,"data":{"name":"d"},"transform":[{"filter":"datum.p==3"}],"mark":{"type":"line","strokeWidth":1.2},"encoding":{"x":{"field":"x","type":"quantitative","scale":{"domain":[0,3.16],"nice":false,"zero":false},"axis":{"labels":false,"values":[0,0.5,1,1.5,2,2.5,3]}},"y":{"field":"y","type":"quantitative","scale":{"domain":[0,250],"nice":false},"axis":{"values":[0,100,200]}},"color":{"field":"s","type":"nominal","scale":{"domain":["k1","b","r","k2"],"range":["#000000","#0000ff","#ff0000","#000000"]},"legend":null}}},
{"width":535,"height":40,"encoding":{"x":{"field":"x","type":"quantitative","scale":{"domain":[0,3.16],"nice":false,"zero":false},"axis":{"labels":false,"values":[0,0.5,1,1.5,2,2.5,3]}},"y":{"field":"y","type":"quantitative","scale":{"domain":[0,250],"nice":false},"axis":{"values":[0,100,200]}}},"layer":[
{"data":{"name":"g"},"transform":[{"filter":"datum.p==4"}],"mark":{"type":"area","color":"#b4b4b4"}},
{"data":{"name":"d"},"transform":[{"filter":"datum.p==4"}],"mark":{"type":"line","strokeWidth":1.2},"encoding":{"color":{"field":"s","type":"nominal","scale":{"domain":["k1","b","r","k2"],"range":["#000000","#0000ff","#ff0000","#000000"]},"legend":null}}}]},
{"width":535,"height":40,"data":{"name":"d"},"transform":[{"filter":"datum.p==5"}],"mark":{"type":"line","strokeWidth":1.2},"encoding":{"x":{"field":"x","type":"quantitative","scale":{"domain":[0,3.16],"nice":false,"zero":false},"axis":{"labels":false,"values":[0,0.5,1,1.5,2,2.5,3]}},"y":{"field":"y","type":"quantitative","scale":{"domain":[0,250],"nice":false},"axis":{"values":[0,100,200]}},"color":{"field":"s","type":"nominal","scale":{"domain":["k1","b","r","k2"],"range":["#000000","#0000ff","#ff0000","#000000"]},"legend":null}}},
{"width":535,"height":40,"data":{"name":"d"},"transform":[{"filter":"datum.p==6"}],"mark":{"type":"line","strokeWidth":1.2},"encoding":{"x":{"field":"x","type":"quantitative","scale":{"domain":[0,3.16],"nice":false,"zero":false},"axis":{"labels":false,"values":[0,0.5,1,1.5,2,2.5,3]}},"y":{"field":"y","type":"quantitative","scale":{"domain":[0,250],"nice":false},"axis":{"values":[0,100,200]}},"color":{"field":"s","type":"nominal","scale":{"domain":["k1","b","r","k2"],"range":["#000000","#0000ff","#ff0000","#000000"]},"legend":null}}},
{"width":535,"height":40,"data":{"name":"d"},"transform":[{"filter":"datum.p==7"}],"mark":{"type":"line","strokeWidth":1.2},"encoding":{"x":{"field":"x","type":"quantitative","scale":{"domain":[0,3.16],"nice":false,"zero":false},"axis":{"labels":false,"values":[0,0.5,1,1.5,2,2.5,3]}},"y":{"field":"y","type":"quantitative","scale":{"domain":[0,250],"nice":false},"axis":{"values":[0,100,200]}},"color":{"field":"s","type":"nominal","scale":{"domain":["k1","b","r","k2"],"range":["#000000","#0000ff","#ff0000","#000000"]},"legend":null}}},
{"width":535,"height":40,"encoding":{"x":{"field":"x","type":"quantitative","scale":{"domain":[0,3.16],"nice":false,"zero":false},"axis":{"values":[0,0.5,1,1.5,2,2.5,3]}},"y":{"field":"y","type":"quantitative","scale":{"domain":[0,250],"nice":false},"axis":{"values":[0,100,200]}}},"layer":[
{"data":{"name":"g"},"transform":[{"filter":"datum.p==8"}],"mark":{"type":"area","color":"#b4b4b4"}},
{"data":{"name":"d"},"transform":[{"filter":"datum.p==8"}],"mark":{"type":"line","strokeWidth":1.2},"encoding":{"color":{"field":"s","type":"nominal","scale":{"domain":["k1","b","r","k2"],"range":["#000000","#0000ff","#ff0000","#000000"]},"legend":null}}}]}
]
}
